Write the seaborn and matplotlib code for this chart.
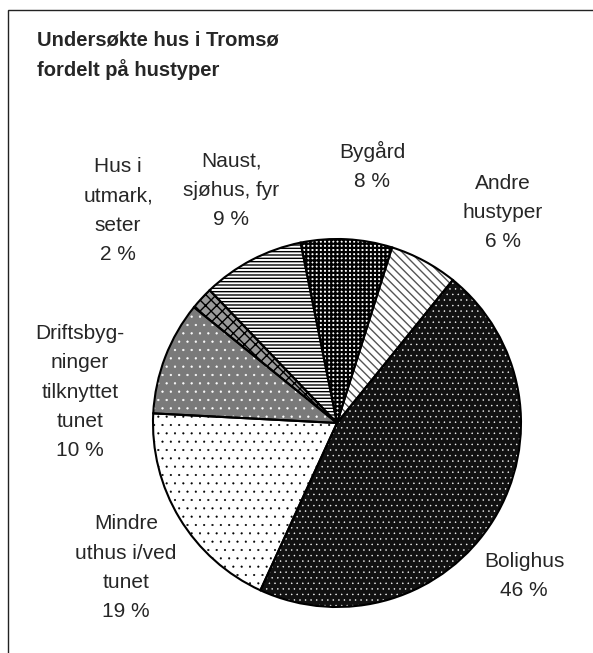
import matplotlib
matplotlib.use("Agg")
import matplotlib.pyplot as plt
import seaborn as sns
from matplotlib.patches import Rectangle

# house types, clockwise from the Bolighus wedge
categories = [
    "Bolighus",
    "Mindre\nuthus i/ved\ntunet",
    "Driftsbyg-\nninger\ntilknyttet\ntunet",
    "Hus i\nutmark,\nseter",
    "Naust,\nsjøhus, fyr",
    "Bygård",
    "Andre\nhustyper",
]
shares = [46, 19, 10, 2, 9, 8, 6]

# fill styles (grey-scale patterns like the original)
face_colors = ["#111111", "#ffffff", "#7a7a7a", "#9a9a9a", "#ffffff", "#ffffff", "#ffffff"]
hatch_colors = ["#ffffff", "#000000", "#ffffff", "#000000", "#000000", "#000000", "#555555"]
hatches = ["...", "..", "..", "xxx", "-----", "++++", "\\\\\\\\"]
hatch_widths = [0.3, 0.3, 0.4, 1.0, 1.0, 1.6, 1.0]

# last-line baseline of each label, in pie radius units
label_pos = [
    (1.016, -0.940),
    (-1.147, -1.054),
    (-1.397, -0.179),
    (-1.190, 0.886),
    (-0.576, 1.076),
    (0.190, 1.283),
    (0.902, 0.957),
]

sns.set_style("white")
plt.rcParams["font.family"] = ["Liberation Sans", "DejaVu Sans"]
plt.rcParams["hatch.linewidth"] = 1.0

W, H = 593, 653
cx, cy, r = 337, 423, 184

fig = plt.figure(figsize=(W / 100, H / 100), dpi=100)
ax = fig.add_axes([0, 0, 1, 1])

wedges, _ = ax.pie(shares, startangle=51, counterclock=False,
                   wedgeprops=dict(linewidth=0))
for w, fc, hc, h, hw in zip(wedges, face_colors, hatch_colors, hatches, hatch_widths):
    w.set_facecolor(fc)
    w.set_edgecolor(hc)
    w.set_hatch(h)
    if hasattr(w, "set_hatch_linewidth"):
        w.set_hatch_linewidth(hw)

# outlines on top
ax.pie(shares, startangle=51, counterclock=False,
       wedgeprops=dict(facecolor="none", edgecolor="black", linewidth=1.5))

for name, v, (x, y) in zip(categories, shares, label_pos):
    ax.text(x, y, f"{name}\n{v} %", ha="center", va="baseline",
            multialignment="center", fontsize=15, linespacing=1.68)

ax.set_xlim(-cx / r, (W - cx) / r)
ax.set_ylim((cy - H) / r, cy / r)
ax.set_aspect("auto")
ax.axis("off")

fig.text(37 / W, 1 - 76 / H, "Undersøkte hus i Tromsø\nfordelt på hustyper",
         ha="left", va="baseline", fontsize=14.5, fontweight="bold",
         linespacing=1.55)

fig.patches.append(Rectangle((8 / W, -0.1), 1.2, 1.1 - 10 / H, fill=False,
                             edgecolor="#222222", linewidth=1.0,
                             transform=fig.transFigure, figure=fig))

fig.savefig("out.png", dpi=100, facecolor="white")
